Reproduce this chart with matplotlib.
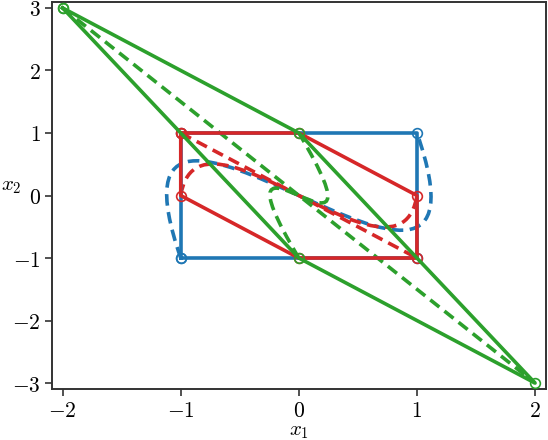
import numpy as np
import matplotlib
matplotlib.use("Agg")
import matplotlib.pyplot as plt
from matplotlib.path import Path
from matplotlib.patches import PathPatch
from matplotlib.ticker import FuncFormatter

plt.rcParams['mathtext.fontset'] = 'cm'
plt.rcParams['font.family'] = ['DejaVu Serif']

BLUE, RED, GREEN = '#1f77b4', '#d62728', '#2ca02c'

# polygons (closed)
blue_x = [-1, 1, 1, -1, -1]
blue_y = [-1, -1, 1, 1, -1]
red_x = [-1, 0, 1, 1, 0, -1, -1]
red_y = [1, 1, 0, -1, -1, 0, 1]
green_x = [-2, 0, 2, 0, -2]
green_y = [3, 1, -3, -1, 3]

# straight dashed diagonals
red_diag_x = [-1, 1]
red_diag_y = [1, -1]
green_diag_x = [-2, 2]
green_diag_y = [3, -3]

# cubic Bezier control points of the dashed curves
blue_curve = [(-1, -1), (-1.81, 3.4), (1.81, -3.4), (1, 1)]
red_curve = [(-1, 0), (-0.85, 1.75), (0.85, -1.75), (1, 0)]
green_curve = [(0, -1), (-0.85, 1.7), (0.85, -1.7), (0, 1)]

xticks = [-2, -1, 0, 1, 2]
yticks = [-3, -2, -1, 0, 1, 2, 3]

fig = plt.figure(figsize=(5.48, 4.4), dpi=100)
ax = fig.add_axes([0.0949, 0.1152, 0.9009, 0.8809])

LW = 2.6
MS = 7

def bez(ctrl, color):
    p = Path(ctrl, [Path.MOVETO, Path.CURVE4, Path.CURVE4, Path.CURVE4])
    ax.add_patch(PathPatch(p, fill=False, edgecolor=color, lw=LW,
                           linestyle=(0, (3.2, 1.8)), zorder=2))

# blue
ax.plot(blue_x, blue_y, color=BLUE, lw=LW, marker='o', ms=MS,
        mfc='none', mew=1.2, zorder=3)
bez(blue_curve, BLUE)
# red
ax.plot(red_x, red_y, color=RED, lw=LW, marker='o', ms=MS,
        mfc='none', mew=1.2, zorder=3)
ax.plot(red_diag_x, red_diag_y, color=RED, lw=LW, ls=(0, (3.2, 1.8)), zorder=2)
bez(red_curve, RED)
# green
ax.plot(green_x, green_y, color=GREEN, lw=LW, marker='o', ms=MS,
        mfc='none', mew=1.2, zorder=3)
ax.plot(green_diag_x, green_diag_y, color=GREEN, lw=LW, ls=(0, (3.2, 1.8)), zorder=2)
bez(green_curve, GREEN)

ax.set_xlim(-2.09, 2.09)
ax.set_ylim(-3.1, 3.1)
ax.set_xticks(xticks)
ax.set_yticks(yticks)
fmt = FuncFormatter(lambda v, p: f'${v:g}$')
ax.xaxis.set_major_formatter(fmt)
ax.yaxis.set_major_formatter(fmt)
ax.tick_params(labelsize=15.5, length=5, width=1.2, color='#333333', pad=3)
for s in ax.spines.values():
    s.set_color('#333333')
    s.set_linewidth(1.4)

ax.set_xlabel('$x_1$', fontsize=15, va='top')
ax.xaxis.set_label_coords(0.5, -0.085)
ax.set_ylabel('$x_2$', fontsize=15, rotation=0, va='center', ha='center')
ax.yaxis.set_label_coords(-0.082, 0.524)

fig.savefig('out.png', dpi=100)
